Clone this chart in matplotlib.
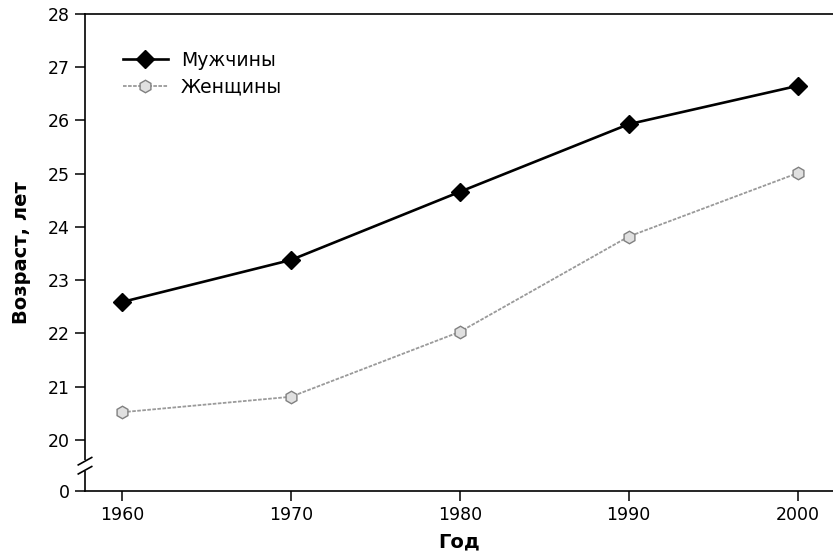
import matplotlib
matplotlib.use("Agg")
import matplotlib.pyplot as plt
import numpy as np

plt.rcParams['font.family'] = ['DejaVu Sans']

years = [1960, 1970, 1980, 1990, 2000]
men = [22.59, 23.38, 24.66, 25.93, 26.65]
women = [20.52, 20.81, 22.03, 23.82, 25.01]
y_ticks = [0, 20, 21, 22, 23, 24, 25, 26, 27, 28]
labels = ['Мужчины', 'Женщины']

# broken axis: values below 20 are squeezed into a short stub under the break
BASE, K = 19.04, 0.048

def fwd(y):
    y = np.asarray(y, dtype=float)
    return np.where(y >= 20, y, BASE + y * K)

def inv(u):
    u = np.asarray(u, dtype=float)
    return np.where(u >= 20, u, (u - BASE) / K)

fig = plt.figure(figsize=(8.33, 5.52), dpi=100)
ax = fig.add_axes([85 / 833, 1 - 491 / 552, 748 / 833, 477 / 552])
ax.set_yscale('function', functions=(fwd, inv))

ax.plot(years, men, color='black', lw=1.9, marker='D', ms=9.5,
        mfc='black', mec='black', label=labels[0], zorder=3)
ax.plot(years, women, color='#9a9a9a', lw=1.3, ls=(0, (2, 0.8)), marker='h', ms=9,
        mfc='#e0e0e0', mec='#808080', mew=1.0, label=labels[1], zorder=3)

ax.set_xlim(1957.8, 2002.1)
ax.set_ylim(0, 28)
ax.set_xticks(years)
ax.set_yticks(y_ticks)
ax.minorticks_off()
ax.tick_params(axis='both', direction='out', length=7, width=1.1, labelsize=12.5, pad=4)

for side in ('left', 'bottom', 'top'):
    ax.spines[side].set_linewidth(1.2)
ax.spines['right'].set_visible(False)

# break marks on the y axis (positions given in the stub's data units)
bt = ax.get_yaxis_transform()
ax.plot([0, 0], [inv(19.41), inv(19.62)], transform=bt, color='white', lw=3,
        clip_on=False, zorder=5, solid_capstyle='butt')
for yc in (19.43, 19.60):
    ax.plot([-0.009, 0.009], [inv(yc - 0.07), inv(yc + 0.07)], transform=bt,
            color='black', lw=1.2, clip_on=False, zorder=6)

ax.set_xlabel('Год', fontsize=14, fontweight='bold', labelpad=6)
ax.set_ylabel('Возраст, лет', fontsize=14, fontweight='bold', labelpad=12)

ax.legend(loc='upper left', bbox_to_anchor=(0.028, 0.958), frameon=False, fontsize=13.5,
          handlelength=2.4, handletextpad=0.7, labelspacing=0.4)

fig.savefig('out.png', dpi=100)
